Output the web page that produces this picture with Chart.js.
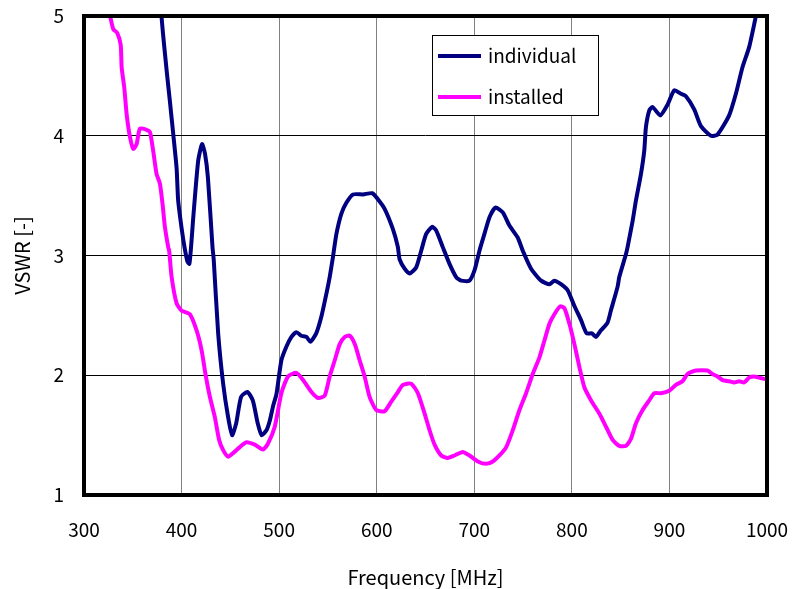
<!DOCTYPE html>
<html lang="en">
  <head>
    <meta charset="UTF-8" />
    <script src="https://cdn.jsdelivr.net/npm/chart.js@4.4.0/dist/chart.umd.min.js"></script>
    <title>VSWR</title>
    <style>
      body { margin: 0; background: #fff; }
      .canvas-container { position: relative; width: 793px; height: 589px; }
    </style>
  </head>
  <body>
    <div class="canvas-container">
      <canvas id="myChart"></canvas>
    </div>

    <script>
      const seriesNames = ["individual", "installed"];
      const xTitle = "Frequency [MHz]";
      const yTitle = "VSWR [-]";

      // MHz / VSWR
      const individualFreq = [379.5, 381, 385, 388, 391.4, 394.9, 396.5, 400, 403, 406, 408, 410, 412, 417, 421, 424, 427, 431.7, 433, 437.5, 442.6, 447.7, 451.8, 456, 461, 467.5, 473, 478, 482, 487, 490.4, 494, 497.2, 502.3, 507.5, 512.6, 517.7, 522.8, 528, 532, 538, 543.3, 548.4, 551.8, 555.2, 558.7, 563.8, 568.9, 575.7, 586, 595.4, 601.2, 608.1, 616.6, 621.7, 623.4, 628.6, 633.7, 640.4, 645.6, 650.7, 656.8, 660.9, 667.7, 674.6, 681.4, 686.5, 695, 700.2, 705.3, 710.4, 715.6, 721.7, 729.2, 736, 744.5, 749.7, 758.2, 768.5, 777, 782.1, 788.9, 795.7, 802.5, 809.4, 815.1, 820.6, 824.7, 829.8, 836.6, 840, 846.9, 848.6, 855.4, 857.1, 862.3, 865.7, 870.8, 874.2, 875.9, 879.3, 882.7, 890.6, 898.1, 905, 911.8, 916.9, 925.4, 932.3, 942.5, 949.3, 961.2, 968.1, 974.8, 981.7, 988.4];
      const individualVswr = [4.99, 4.85, 4.52, 4.29, 4.02, 3.73, 3.46, 3.23, 3.07, 2.95, 2.93, 3.1, 3.32, 3.79, 3.93, 3.85, 3.65, 3.07, 2.96, 2.35, 1.93, 1.65, 1.5, 1.6, 1.82, 1.86, 1.79, 1.6, 1.5, 1.54, 1.62, 1.75, 1.84, 2.125, 2.24, 2.32, 2.36, 2.33, 2.32, 2.28, 2.35, 2.49, 2.68, 2.82, 2.99, 3.18, 3.35, 3.44, 3.51, 3.51, 3.52, 3.47, 3.39, 3.22, 3.07, 2.97, 2.89, 2.85, 2.9, 3.04, 3.18, 3.24, 3.21, 3.07, 2.93, 2.82, 2.79, 2.79, 2.875, 3.04, 3.18, 3.32, 3.4, 3.36, 3.25, 3.15, 3.04, 2.89, 2.79, 2.76, 2.79, 2.76, 2.71, 2.58, 2.46, 2.35, 2.35, 2.32, 2.375, 2.44, 2.54, 2.74, 2.82, 3.01, 3.07, 3.29, 3.46, 3.68, 3.875, 4.07, 4.21, 4.24, 4.17, 4.26, 4.38, 4.35, 4.33, 4.22, 4.08, 4.0, 4.01, 4.17, 4.35, 4.57, 4.74, 4.99];

      const installedFreq = [327, 330, 334, 337.6, 338.6, 341.3, 343.7, 347.1, 350.5, 353.9, 357.3, 364.2, 367.6, 370.9, 374.4, 377.8, 380.5, 382.9, 386.3, 387.3, 389.8, 394.9, 400, 408.5, 415.4, 420.5, 424.9, 429, 434.1, 438.5, 442.6, 447.7, 452.8, 459.7, 466.5, 475, 483.5, 488.6, 495.5, 502.3, 509.1, 517.7, 524.5, 533.1, 539.9, 546.7, 551.8, 557, 562.1, 567.2, 572.3, 577.5, 582.5, 587.6, 592.7, 599.5, 608.1, 614.9, 621.7, 626.8, 635.4, 642.2, 649.1, 654.2, 659.3, 666.1, 672.9, 679.7, 688.2, 695.1, 703.6, 712.2, 719, 725.8, 732.7, 739.4, 746.3, 753.1, 759.9, 766.8, 771.9, 777, 782.1, 788, 792.4, 797.5, 802.6, 807.7, 812.8, 819.7, 828.1, 835, 841.8, 848.6, 855.5, 860.6, 865.7, 872.5, 879.3, 884.4, 891.3, 899.8, 906.6, 913.4, 918.5, 927.1, 939, 944.1, 949.3, 954.4, 961.2, 966.4, 971.5, 976.6, 981.7, 986.8, 991.9, 997];
      const installedVswr = [4.99, 4.89, 4.86, 4.76, 4.57, 4.4, 4.18, 3.99, 3.89, 3.93, 4.06, 4.05, 4.03, 3.875, 3.68, 3.6, 3.43, 3.24, 3.07, 3.04, 2.82, 2.6, 2.54, 2.51, 2.375, 2.21, 1.99, 1.82, 1.65, 1.46, 1.375, 1.32, 1.35, 1.4, 1.44, 1.42, 1.38, 1.43, 1.57, 1.85, 1.99, 2.02, 1.96, 1.86, 1.81, 1.83, 1.99, 2.125, 2.26, 2.32, 2.33, 2.26, 2.125, 1.99, 1.82, 1.71, 1.7, 1.78, 1.86, 1.92, 1.93, 1.85, 1.68, 1.54, 1.42, 1.33, 1.31, 1.33, 1.36, 1.33, 1.28, 1.26, 1.28, 1.33, 1.4, 1.54, 1.71, 1.85, 2.01, 2.15, 2.29, 2.43, 2.51, 2.575, 2.56, 2.43, 2.26, 2.07, 1.9, 1.79, 1.68, 1.57, 1.46, 1.41, 1.41, 1.47, 1.6, 1.71, 1.79, 1.85, 1.85, 1.87, 1.92, 1.95, 2.01, 2.04, 2.04, 2.01, 1.99, 1.96, 1.95, 1.94, 1.95, 1.94, 1.98, 1.99, 1.98, 1.97];

      const font = "'Noto Sans CJK JP', 'DejaVu Sans', sans-serif";

      const toPoints = (xs, ys) => xs.map((x, i) => ({ x: x, y: ys[i] }));

      // thick frame round the plot + legend box inside it
      const framePlugin = {
        id: "frame",
        afterDraw(chart) {
          const { ctx, chartArea: a } = chart;
          ctx.save();
          ctx.strokeStyle = "#000";
          ctx.lineWidth = 4;
          ctx.strokeRect(a.left, a.top, a.right - a.left, a.bottom - a.top);

          // legend
          const bx = 432, by = 35, bw = 166, bh = 80;
          ctx.fillStyle = "#fff";
          ctx.fillRect(bx, by, bw, bh);
          ctx.lineWidth = 1;
          ctx.strokeStyle = "#000";
          ctx.strokeRect(bx + 0.5, by + 0.5, bw, bh);
          ctx.font = "19px " + font;
          ctx.textBaseline = "middle";
          chart.data.datasets.forEach((ds, i) => {
            const y = by + 21 + i * 41;
            ctx.strokeStyle = ds.borderColor;
            ctx.lineWidth = 4;
            ctx.beginPath();
            ctx.moveTo(bx + 6, y);
            ctx.lineTo(bx + 49, y);
            ctx.stroke();
            ctx.fillStyle = "#000";
            ctx.fillText(ds.label, bx + 56, y);
          });
          ctx.restore();
        },
      };

      const ctx = document.getElementById("myChart").getContext("2d");
      const myChart = new Chart(ctx, {
        type: "line",
        data: {
          datasets: [
            {
              label: seriesNames[0],
              data: toPoints(individualFreq, individualVswr),
              borderColor: "#000080",
              borderWidth: 4,
              pointRadius: 0,
              tension: 0.2,
              borderJoinStyle: "round",
              borderCapStyle: "round",
            },
            {
              label: seriesNames[1],
              data: toPoints(installedFreq, installedVswr),
              borderColor: "#ff00ff",
              borderWidth: 4,
              pointRadius: 0,
              tension: 0.2,
              borderJoinStyle: "round",
              borderCapStyle: "round",
            },
          ],
        },
        options: {
          responsive: true,
          maintainAspectRatio: false,
          animation: false,
          layout: { padding: { top: 16, right: 26, left: 0, bottom: 0 } },
          plugins: { legend: { display: false }, tooltip: { enabled: false } },
          scales: {
            x: {
              type: "linear",
              min: 300,
              max: 1000,
              afterFit: (s) => { s.height = 94; s.paddingLeft = 0; s.paddingRight = 0; },
              ticks: { stepSize: 100, padding: 23, color: "#000", font: { family: font, size: 19 }, callback: (v) => String(v) },
              grid: { color: "#808080", lineWidth: 1, drawTicks: false },
              border: { display: false },
              title: { display: true, text: xTitle, color: "#000", font: { family: font, size: 20 }, padding: { top: 0, bottom: 0 } },
            },
            y: {
              min: 1,
              max: 5,
              afterFit: (s) => { s.width = 84; s.paddingTop = 0; s.paddingBottom = 0; },
              ticks: { stepSize: 1, padding: 20, color: "#000", font: { family: font, size: 19 } },
              grid: { color: "#000", lineWidth: 1, drawTicks: false },
              border: { display: false },
              title: { display: true, text: yTitle, color: "#000", font: { family: font, size: 20 }, padding: { top: 10, bottom: 0 } },
            },
          },
        },
        plugins: [framePlugin],
      });
    </script>
  </body>
</html>
